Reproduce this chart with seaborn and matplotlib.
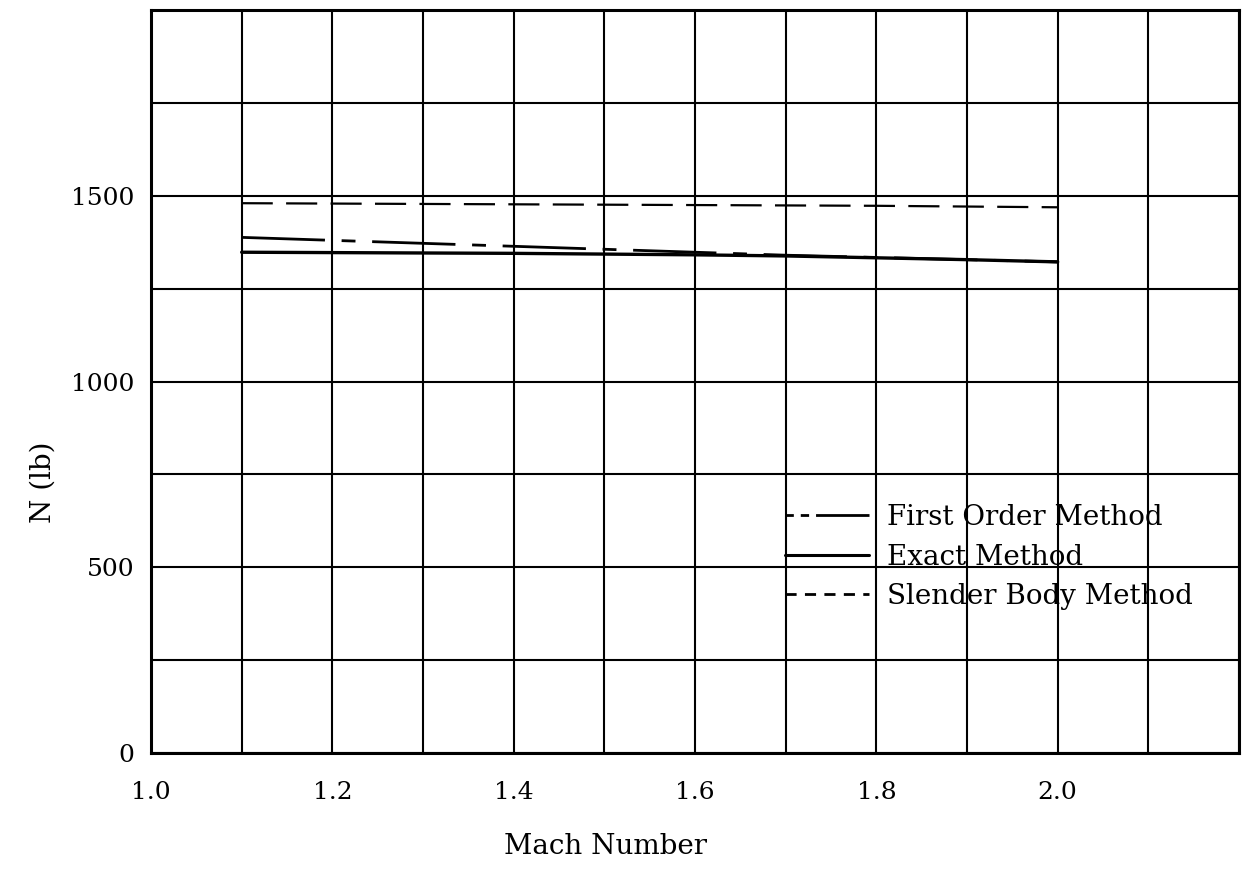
import numpy as np
import matplotlib.pyplot as plt
import seaborn as sns
from matplotlib.lines import Line2D

# values (N in lb vs Mach number)
mach = [1.1, 1.2, 1.3, 1.4, 1.5, 1.6, 1.7, 1.8, 1.9, 2.0]
first_order = [1388, 1380, 1372, 1364, 1356, 1348, 1340, 1334, 1328, 1322]
exact = [1348, 1347, 1346, 1345, 1343, 1341, 1338, 1333, 1328, 1322]
slender_body = [1480, 1479, 1478, 1477, 1476, 1475, 1474, 1473, 1471, 1469]

x_ticks = [1.0, 1.1, 1.2, 1.3, 1.4, 1.5, 1.6, 1.7, 1.8, 1.9, 2.0, 2.1, 2.2]
x_labels = ['1.0', '', '1.2', '', '1.4', '', '1.6', '', '1.8', '', '2.0', '', '']
y_ticks = [0, 250, 500, 750, 1000, 1250, 1500, 1750, 2000]
y_labels = ['0', '', '500', '', '1000', '', '1500', '', '']

sns.set_style('white', {'text.color': 'black', 'axes.labelcolor': 'black',
                        'xtick.color': 'black', 'ytick.color': 'black'})
plt.rcParams['font.family'] = ['DejaVu Serif']

fig, ax = plt.subplots(figsize=(12.51, 8.73), dpi=100)
fig.subplots_adjust(left=0.1207, right=0.9904, top=0.9885, bottom=0.1375)

# curves
sns.lineplot(x=mach, y=slender_body, ax=ax, color='black', linewidth=1.6,
             linestyle=(0, (14, 6)))
sns.lineplot(x=mach, y=first_order, ax=ax, color='black', linewidth=2.0,
             linestyle=(0, (30, 6, 5, 6)))
sns.lineplot(x=mach, y=exact, ax=ax, color='black', linewidth=2.4)

ax.set_xlim(1.0, 2.2)
ax.set_ylim(0, 2000)
ax.set_xticks(x_ticks)
ax.set_xticklabels(x_labels)
ax.set_yticks(y_ticks)
ax.set_yticklabels(y_labels)
ax.tick_params(axis='x', length=0, pad=20, labelsize=18, labelcolor='black')
ax.tick_params(axis='y', length=0, pad=12, labelsize=18, labelcolor='black')
ax.grid(True, color='black', linewidth=1.5)
ax.set_axisbelow(True)
for s in ax.spines.values():
    s.set_color('black')
    s.set_linewidth(2.2)

ax.set_xlabel('Mach Number', fontsize=20, color='black')
ax.xaxis.set_label_coords(0.418, -0.108)
ax.set_ylabel('N (lb)', fontsize=20, color='black')
ax.yaxis.set_label_coords(-0.087, 0.365)

# legend drawn on top of the grid, no frame
handles = [
    Line2D([], [], color='black', linewidth=2.0,
           linestyle=(0, (3, 2.5, 3, 2.5, 19, 0))),
    Line2D([], [], color='black', linewidth=2.2),
    Line2D([], [], color='black', linewidth=2.0, linestyle=(0, (4, 3))),
]
labels = ['First Order Method', 'Exact Method', 'Slender Body Method']
leg = ax.legend(handles, labels, loc='upper left', bbox_to_anchor=(0.583, 0.335),
                frameon=False, fontsize=20, handlelength=3.0, handletextpad=0.65,
                labelspacing=0.45, borderpad=0, borderaxespad=0)
for t in leg.get_texts():
    t.set_color('black')

plt.savefig('out.png', dpi=100)
